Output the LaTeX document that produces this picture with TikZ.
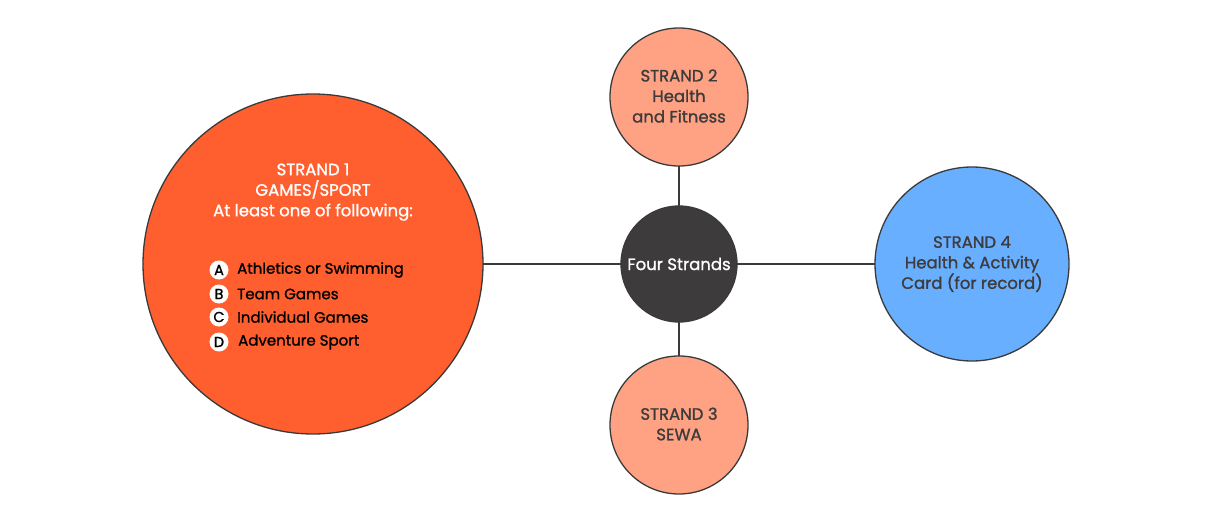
\documentclass[tikz,border=0pt]{standalone}
\usepackage{fontspec}
\setmainfont{Poppins}
\newfontfamily\semib[FakeBold=1.2]{Poppins}
\definecolor{bord}{HTML}{3B3A3A}
\definecolor{orangeA}{HTML}{FF5F2E}
\definecolor{salmon}{HTML}{FFA283}
\definecolor{skyb}{HTML}{69AFFF}
\definecolor{darkc}{HTML}{3D3B3C}
\definecolor{txtg}{HTML}{3D3B3C}
\begin{document}
\begin{tikzpicture}[x=1pt,y=-1pt,
  strand/.style={circle,draw=bord,line width=1.3pt,inner sep=0pt},
  conn/.style={draw=bord,line width=1.6pt},
  lbl/.style={align=center,font=\semib\fontsize{16.5}{20.5}\selectfont},
  item/.style={anchor=west,inner sep=0pt,font=\semib\fontsize{15}{16}\selectfont,text=black},
  letter/.style={circle,fill=white,minimum size=19pt,inner sep=0pt,font=\semib\fontsize{14.5}{15}\selectfont,text=black}]
\useasboundingbox (0,0) rectangle (1212,519);
\fill[white] (0,0) rectangle (1212,519);
% connectors first (behind circles)
\coordinate (pc) at (679,264);
\coordinate (p1) at (313,264);
\coordinate (p2) at (679,97);
\coordinate (p3) at (679,425);
\coordinate (p4) at (972,264);
\draw[conn] (pc) -- (p1);
\draw[conn] (pc) -- (p2);
\draw[conn] (pc) -- (p3);
\draw[conn] (pc) -- (p4);
% circles
\node[strand,fill=orangeA,minimum size=340pt] (s1) at (p1) {};
\node[strand,fill=salmon,minimum size=138pt] (s2) at (p2) {};
\node[strand,fill=salmon,minimum size=138pt] (s3) at (p3) {};
\node[strand,fill=skyb,minimum size=194pt] (s4) at (p4) {};
\node[strand,fill=darkc,minimum size=116pt] (c) at (pc) {};
% labels
\node[lbl,text=white] (t1) at (313,192) {STRAND 1\\GAMES/SPORT\\At least one of following:};
\node[lbl,text=txtg] (t2) at (679,96) {STRAND 2\\Health\\and Fitness};
\node[lbl,text=txtg] (t3) at (679,424) {STRAND 3\\SEWA};
\node[lbl,text=txtg] (t4) at (972,264) {STRAND 4\\Health \& Activity\\Card (for record)};
\node[lbl,text=white,font=\semib\fontsize{16.5}{18}\selectfont] (tc) at (pc) {Four Strands};
% list
\node[letter] (la) at (219,270) {A};
\node[letter] (lb) at (219,294) {B};
\node[letter] (lc) at (219,317) {C};
\node[letter] (ld) at (219,342) {D};
\node[item] (ia) at (237,270) {Athletics or Swimming};
\node[item] (ib) at (237,294) {Team Games};
\node[item] (ic) at (237,317) {Individual Games};
\node[item] (id) at (238,342) {Adventure Sport};
\end{tikzpicture}
\end{document}
